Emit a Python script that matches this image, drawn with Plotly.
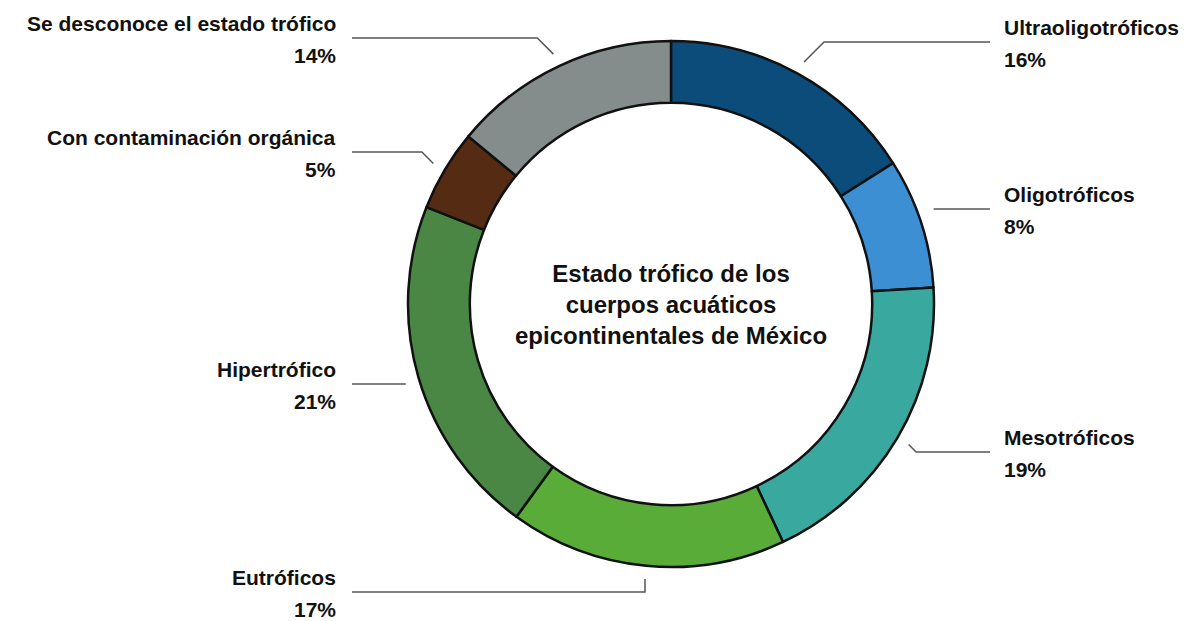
import math
import plotly.graph_objects as go

# Trophic state of Mexico's inland water bodies (percent of sites)
categories = [
    "Ultraoligotróficos",
    "Oligotróficos",
    "Mesotróficos",
    "Eutróficos",
    "Hipertrófico",
    "Con contaminación orgánica",
    "Se desconoce el estado trófico",
]
values = [16, 8, 19, 17, 21, 5, 14]
colors = ["#0b4c7a", "#3b8fd2", "#39a9a0", "#5aac38", "#4a8745", "#552b13", "#858d8c"]

center_title = "Estado trófico de los<br>cuerpos acuáticos<br>epicontinentales de México"

# Layout of the labels: side, vertical position (px) and leader style
label_side = ["right", "right", "right", "left", "left", "left", "left"]
label_y = [42, 209, 452, 592, 384, 152, 38]
leader_style = ["diag", "flat", "diag", "vert", "flat", "diag", "diag"]

W, H = 1192, 621
CX, CY, R = 671, 304, 263
HOLE = 0.765
TEXT_RIGHT_X = 1002   # left edge of right-hand labels
TEXT_LEFT_X = 338     # right edge of left-hand labels
FONT = "Liberation Sans Narrow, Arial Narrow, Liberation Sans, Arial, sans-serif"
LABEL_FONT = dict(family=FONT, size=21, color="#111111", weight="bold")

fig = go.Figure()

fig.add_trace(go.Pie(
    labels=categories,
    values=values,
    hole=HOLE,
    sort=False,
    direction="clockwise",
    rotation=0,
    marker=dict(colors=colors, line=dict(color="#111111", width=2.5)),
    textinfo="none",
    hoverinfo="label+percent",
    showlegend=False,
    domain=dict(x=[(CX - R) / W, (CX + R) / W], y=[1 - (CY + R) / H, 1 - (CY - R) / H]),
))

# Leader lines computed from each slice's mid-angle
total = sum(values)
cum = 0
for v, name, side, ly, style in zip(values, categories, label_side, label_y, leader_style):
    theta = 2 * math.pi * (cum + v / 2) / total
    cum += v
    r = R * 1.05
    ax = CX + r * math.sin(theta)
    ay = CY - r * math.cos(theta)
    s = 1 if side == "right" else -1
    end_x = TEXT_RIGHT_X - 12 if side == "right" else TEXT_LEFT_X + 14
    if style == "diag":
        ex = ax + s * abs(ly - ay)
        xs, ys = [ax, ex, end_x], [ay, ly, ly]
    elif style == "vert":
        xs, ys = [ax, ax, end_x], [ay, ly, ly]
    else:
        xs, ys = [ax, end_x], [ly, ly]
    fig.add_trace(go.Scatter(
        x=xs, y=ys, mode="lines",
        line=dict(color="#555555", width=1.5),
        hoverinfo="skip", showlegend=False,
    ))
    pct = round(100 * v / total)
    tx = TEXT_RIGHT_X if side == "right" else TEXT_LEFT_X
    anchor = "left" if side == "right" else "right"
    for txt, dy in ((name, -15), (f"{pct}%", 17)):
        fig.add_annotation(
            x=tx, y=ly + dy, xref="x", yref="y",
            text=txt, showarrow=False,
            xanchor=anchor, yanchor="middle", align=anchor,
            font=LABEL_FONT,
        )

fig.add_annotation(
    x=CX, y=CY, xref="x", yref="y",
    text=center_title, showarrow=False,
    xanchor="center", yanchor="middle", align="center",
    font=dict(family=FONT, size=24, color="#111111", weight="bold"),
)

fig.update_layout(
    width=W, height=H,
    margin=dict(l=0, r=0, t=0, b=0),
    paper_bgcolor="white", plot_bgcolor="white",
    xaxis=dict(range=[0, W], visible=False, fixedrange=True),
    yaxis=dict(range=[H, 0], visible=False, fixedrange=True),
)

fig.write_html("out.html")
